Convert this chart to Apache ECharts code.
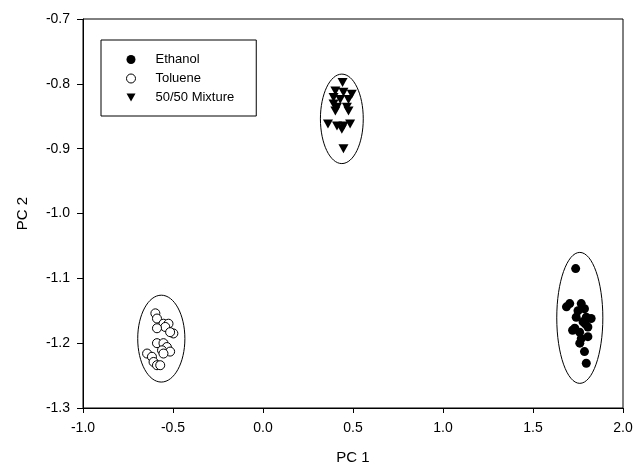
<!DOCTYPE html>
<html>
<head>
<meta charset="utf-8">
<script src="https://cdn.jsdelivr.net/npm/echarts@6/dist/echarts.min.js"></script>
<style>
  html, body { margin: 0; padding: 0; background: #fff; }
  #chart { width: 636px; height: 466px; }
</style>
</head>
<body>
<div id="chart"></div>
<script>
// values
const ethanol = [
  [1.737, -1.085], [1.704, -1.139], [1.686, -1.144], [1.768, -1.139], [1.786, -1.147],
  [1.823, -1.162], [1.796, -1.160], [1.778, -1.167], [1.732, -1.177], [1.805, -1.175],
  [1.759, -1.183], [1.805, -1.190], [1.768, -1.193], [1.786, -1.213], [1.796, -1.231],
  [1.750, -1.150], [1.720, -1.180], [1.790, -1.170], [1.760, -1.200], [1.740, -1.160]
]
const toluene = [
  [-0.598, -1.154], [-0.589, -1.162], [-0.553, -1.170], [-0.525, -1.170], [-0.543, -1.175],
  [-0.589, -1.177], [-0.498, -1.185], [-0.516, -1.183], [-0.589, -1.200], [-0.553, -1.200],
  [-0.534, -1.206], [-0.561, -1.211], [-0.516, -1.213], [-0.553, -1.216], [-0.644, -1.216],
  [-0.617, -1.221], [-0.608, -1.229], [-0.589, -1.234], [-0.571, -1.234]
]
const mixture = [
  [0.442, -0.798], [0.402, -0.811], [0.447, -0.813], [0.493, -0.816], [0.392, -0.821],
  [0.429, -0.824], [0.475, -0.824], [0.392, -0.831], [0.411, -0.836], [0.466, -0.836],
  [0.402, -0.842], [0.475, -0.842], [0.361, -0.862], [0.411, -0.865], [0.447, -0.865],
  [0.484, -0.862], [0.438, -0.870], [0.447, -0.900]
]
// ellipses: centre x, centre y, radius x, radius y
const ellipses = [
  [1.760, -1.161, 0.128, 0.101],
  [0.438, -0.854, 0.119, 0.069],
  [-0.565, -1.193, 0.131, 0.067]
]

const chart = echarts.init(document.getElementById("chart"))
const font = "Liberation Sans, Arial, sans-serif"
const downTri = "path://M0,0 L10,0 L5,9 Z"

const option = {
  backgroundColor: "#fff",
  animation: false,
  grid: {
    left: 83, right: 13, top: 19, bottom: 58,
    outerBoundsMode: "none",
    show: true, borderColor: "#000", borderWidth: 1
  },
  legend: {
    orient: "vertical",
    left: 101, top: 40,
    padding: [13, 22, 12, 25],
    itemGap: 6,
    itemWidth: 9, itemHeight: 9,
    borderColor: "#000", borderWidth: 1, borderRadius: 0,
    textStyle: { fontFamily: font, fontSize: 13, color: "#000", padding: [0, 0, 0, 15] },
    data: [
      { name: "Ethanol", icon: "circle" },
      { name: "Toluene", icon: "circle", itemStyle: { borderWidth: 1 } },
      { name: "50/50 Mixture", icon: downTri }
    ]
  },
  xAxis: {
    type: "value",
    min: -1, max: 2, interval: 0.5,
    name: "PC 1", nameLocation: "middle", nameGap: 42,
    nameTextStyle: { fontFamily: font, fontSize: 15, color: "#000" },
    axisLine: { show: true, onZero: false, lineStyle: { color: "#000", width: 1 } },
    axisTick: { show: true, length: 5, lineStyle: { color: "#000" } },
    axisLabel: { fontFamily: font, fontSize: 14, color: "#000", margin: 13, formatter: v => v.toFixed(1) },
    splitLine: { show: false }
  },
  yAxis: {
    type: "value",
    min: -1.3, max: -0.7, interval: 0.1,
    name: "PC 2", nameLocation: "middle", nameGap: 53,
    nameTextStyle: { fontFamily: font, fontSize: 15, color: "#000" },
    axisLine: { show: true, onZero: false, lineStyle: { color: "#000", width: 1 } },
    axisTick: { show: true, length: 6, lineStyle: { color: "#000" } },
    axisLabel: { fontFamily: font, fontSize: 14, color: "#000", margin: 13, formatter: v => v.toFixed(1) },
    splitLine: { show: false }
  },
  series: [
    {
      type: "custom",
      silent: true,
      data: ellipses,
      renderItem: function (params, api) {
        const c = api.coord([api.value(0), api.value(1)])
        const s = api.size([api.value(2), api.value(3)])
        return {
          type: "ellipse",
          shape: { cx: c[0], cy: c[1], rx: s[0], ry: s[1] },
          style: { fill: "none", stroke: "#000", lineWidth: 1 }
        }
      },
      z: 1
    },
    {
      name: "Ethanol",
      type: "scatter",
      symbol: "circle",
      symbolSize: 9,
      data: ethanol,
      itemStyle: { color: "#000", opacity: 1 },
      z: 3
    },
    {
      name: "Toluene",
      type: "scatter",
      symbol: "circle",
      symbolSize: 9,
      data: toluene,
      itemStyle: { color: "#fff", borderColor: "#000", borderWidth: 1, opacity: 1 },
      z: 3
    },
    {
      name: "50/50 Mixture",
      type: "scatter",
      symbol: downTri,
      symbolSize: [10, 9],
      data: mixture,
      itemStyle: { color: "#000", opacity: 1 },
      z: 3
    }
  ]
}

chart.setOption(option)
</script>
</body>
</html>
